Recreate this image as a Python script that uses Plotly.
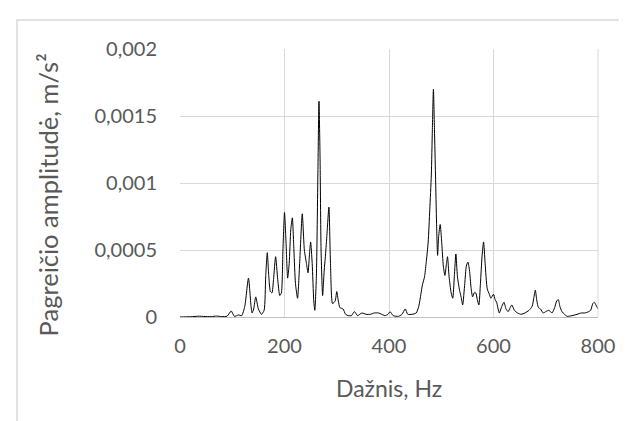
import plotly.graph_objects as go

freq = [0, 20, 37, 45, 60, 70, 80, 90, 98, 104, 112, 118, 124, 131, 136, 138, 141, 145, 150, 156,
        161, 164, 167, 170, 173, 176, 179, 183, 187, 191, 194, 197, 200, 203, 206, 209, 212, 215,
        218, 221, 225, 229, 234, 238, 242, 245, 248, 250, 253, 256, 258, 261, 264, 266, 268, 270,
        273, 276, 278, 281, 285, 288, 292, 297, 300, 303, 306, 312, 317, 322, 328, 334, 340, 348,
        356, 364, 372, 380, 386, 392, 398, 402, 408, 418, 425, 431, 436, 444, 452, 457, 461, 464,
        468, 471, 475, 478, 481, 483, 485, 487, 489, 491, 493, 495, 498, 501, 504, 507, 510, 512,
        515, 519, 522, 525, 528, 531, 535, 538, 541, 545, 548, 551, 554, 557, 560, 563, 566, 569,
        572, 575, 578, 581, 584, 588, 592, 595, 600, 603, 606, 611, 616, 620, 624, 628, 632, 635,
        640, 646, 653, 660, 668, 674, 677, 680, 683, 686, 690, 695, 700, 706, 712, 717, 721, 724,
        727, 731, 736, 741, 750, 760, 768, 775, 782, 786, 790, 793, 796, 800]

amp = [0, 0.000002, 0.000006, 0.000004, 0.000003, 0.000007, 0.000003, 0.000006, 0.000045, 0.000005,
       0.000015, 0.00001, 0.00008, 0.00029, 0.00008, 0.00003, 0.00006, 0.00015, 0.00006, 0.00002,
       0.00005, 0.0003, 0.00048, 0.0003, 0.00019, 0.00018, 0.00028, 0.00045, 0.00028, 0.00016,
       0.00018, 0.0005, 0.00078, 0.00055, 0.00029, 0.0004, 0.00065, 0.00074, 0.0005, 0.00025,
       0.00014, 0.0004, 0.00077, 0.0005, 0.0004, 0.00033, 0.00048, 0.00056, 0.0004, 0.00012,
       0.00005, 0.0003, 0.0011, 0.00161, 0.0012, 0.0005, 0.00016, 0.00035, 0.00044, 0.0006,
       0.00082, 0.0004, 0.0001, 0.00012, 0.00019, 0.00012, 0.00007, 0.00006, 0.00002, 0.00001,
       0.00001, 0.00004, 0.00001, 0.00003, 0.00002, 0.00002, 0.00003, 0.00003, 0.00002, 0.00001,
       0.00002, 0.00004, 0.00001, 0.000005, 0.00002, 0.00006, 0.00002, 0.00002, 0.00003, 0.00008,
       0.00017, 0.00024, 0.0003, 0.0004, 0.00056, 0.0008, 0.00106, 0.0014, 0.0017, 0.0014,
       0.00106, 0.0007, 0.00046, 0.0006, 0.00069, 0.00055, 0.00038, 0.00031, 0.0004, 0.00045,
       0.0003, 0.00018, 0.00014, 0.0003, 0.00047, 0.0003, 0.0002, 0.00015, 0.00009, 0.00025,
       0.00038, 0.00041, 0.00035, 0.00022, 0.00015, 0.00018, 0.00018, 0.00013, 0.00009, 0.00025,
       0.00045, 0.00056, 0.0004, 0.00021, 0.00017, 0.00014, 0.00017, 0.00013, 0.00011, 0.00003,
       0.00008, 0.00011, 0.00006, 0.00004, 0.00007, 0.00009, 0.00005, 0.00003, 0.00002, 0.00003,
       0.00005, 0.00008, 0.00014, 0.0002, 0.00012, 0.00007, 0.00006, 0.00003, 0.00004, 0.00005,
       0.00003, 0.00007, 0.00012, 0.00013, 0.00008, 0.00004, 0.00002, 0.000005, 0.00001, 0.00002,
       0.00003, 0.00003, 0.00004, 0.00005, 0.0001, 0.00011, 0.00009, 0.00006]

x_ticks = [0, 200, 400, 600, 800]
x_tick_labels = ["0", "200", "400", "600", "800"]
y_ticks = [0, 0.0005, 0.001, 0.0015, 0.002]
y_tick_labels = ["0", "0,0005", "0,001", "0,0015", "0,002"]

x_title = "Dažnis, Hz"
y_title = "Pagreičio amplitudė, m/s²"

FONT = "Lato"
GRAY = "#595959"
GRID = "#d9d9d9"

fig = go.Figure()
fig.add_trace(go.Scatter(
    x=freq, y=amp, mode="lines",
    line=dict(color="black", width=1, shape="spline", smoothing=0.6),
    showlegend=False, hoverinfo="skip",
))

fig.update_layout(
    width=627, height=421,
    margin=dict(l=172, r=37, t=41, b=112),
    paper_bgcolor="white", plot_bgcolor="white",
    font=dict(family=FONT, color=GRAY, size=20),
    xaxis=dict(
        range=[0, 800], tickvals=x_ticks, ticktext=x_tick_labels,
        showgrid=True, gridcolor=GRID, gridwidth=1,
        zeroline=False, showline=True, linecolor="#bfbfbf", linewidth=1,
        ticks="", ticklabelstandoff=11, mirror=False,
        tickfont=dict(family=FONT, color=GRAY, size=20),
    ),
    yaxis=dict(
        range=[0, 0.002], tickvals=y_ticks, ticktext=y_tick_labels,
        showgrid=True, gridcolor=GRID, gridwidth=1,
        zeroline=False, showline=False,
        ticks="", ticklabelstandoff=22,
        tickfont=dict(family=FONT, color=GRAY, size=20),
    ),
    annotations=[
        dict(text=x_title, xref="paper", yref="paper", x=0.5, y=-0.265,
             xanchor="center", yanchor="middle", showarrow=False,
             font=dict(family=FONT, color=GRAY, size=23)),
        dict(text=y_title, xref="paper", yref="paper", x=-0.315, y=0.455,
             xanchor="center", yanchor="middle", showarrow=False, textangle=-90,
             font=dict(family=FONT, color=GRAY, size=25.5)),
    ],
    shapes=[
        dict(type="rect", xref="paper", yref="paper", x0=-0.39, y0=-0.5, x1=1.15, y1=1.108,
             line=dict(color=GRID, width=1.5), fillcolor="rgba(0,0,0,0)", layer="below"),
        dict(type="line", xref="paper", yref="paper", x0=1, x1=1, y0=0, y1=1,
             line=dict(color=GRID, width=1)),
    ],
)

fig.write_html("out.html")
